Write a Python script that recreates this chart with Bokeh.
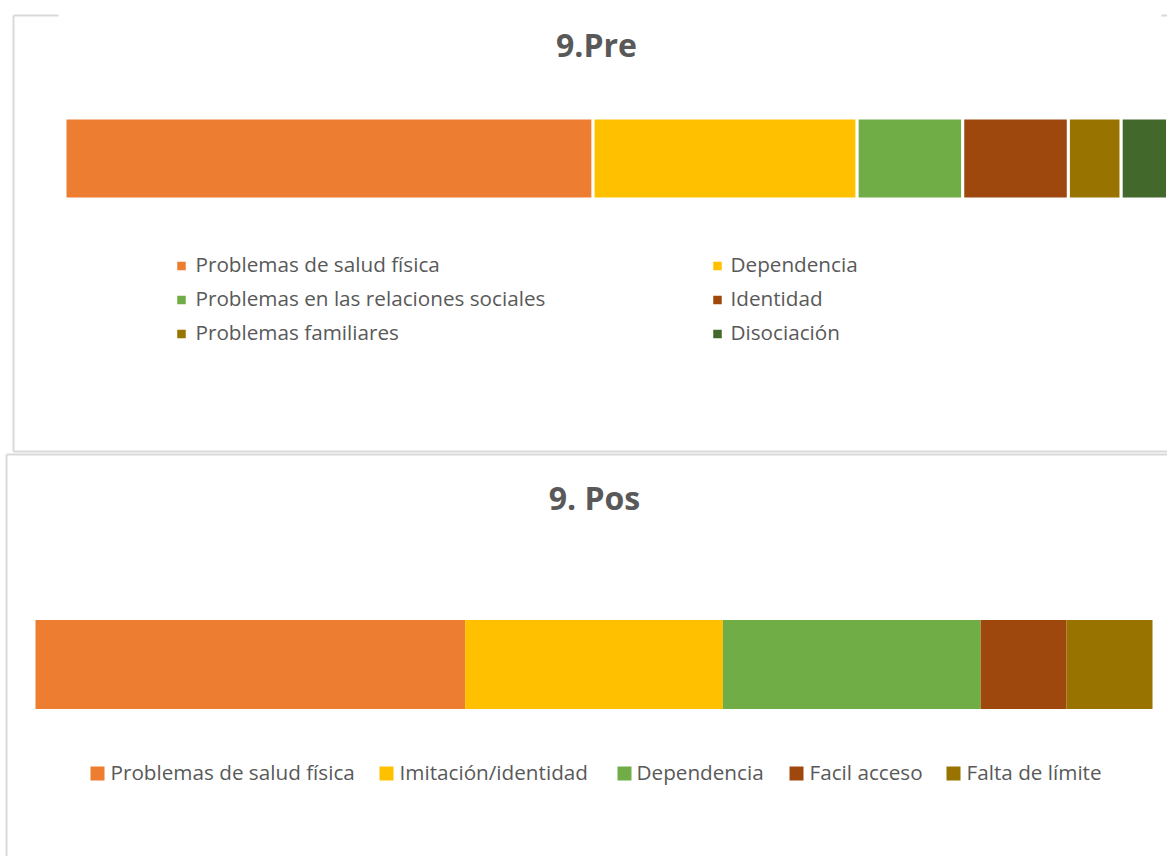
from bokeh.plotting import figure
from bokeh.models import Range1d
from bokeh.core.properties import value
from bokeh.embed import file_html
from bokeh.resources import INLINE

# ---- data -------------------------------------------------------------
pre_labels = ["Problemas de salud física", "Dependencia",
              "Problemas en las relaciones sociales", "Identidad",
              "Problemas familiares", "Disociación"]
pre_values = [10, 5, 2, 2, 1, 1]
pre_colors = ["#ED7D31", "#FFC000", "#70AD47", "#9E480E", "#997300", "#43682B"]

pos_labels = ["Problemas de salud física", "Imitación/identidad",
              "Dependencia", "Facil acceso", "Falta de límite"]
pos_values = [5, 3, 3, 1, 1]
pos_colors = ["#ED7D31", "#FFC000", "#70AD47", "#9E480E", "#997300"]

# ---- page geometry (pixels) ------------------------------------------
W, H = 1167, 856
FONT = value("Open Sans")
TXT = "#595959"
BORDER = "#D9D9D9"
LEGEND_SIZE = "20.7px"
TITLE_SIZE = "32px"

p = figure(width=W, height=H, output_backend="svg", toolbar_location=None,
           x_range=Range1d(0, W), y_range=Range1d(H, 0),
           min_border=0, min_border_left=0, min_border_right=0,
           min_border_top=0, min_border_bottom=0)
p.axis.visible = False
p.grid.visible = False
p.outline_line_color = None
p.background_fill_color = "white"


def value_range(total, px_left, px_right):
    # maps 0..total onto px_left..px_right across the full canvas width
    span = (px_right - px_left) / total
    return Range1d(-px_left / span, (W - px_left) / span)


p.extra_x_ranges = {
    "pre": value_range(sum(pre_values), 64.5, 1173.5),
    "pos": value_range(sum(pos_values), 35, 1152),
}


def cumulative(vals):
    left, out_l, out_r = 0, [], []
    for v in vals:
        out_l.append(left)
        left += v
        out_r.append(left)
    return out_l, out_r


# ---- panel frames ----------------------------------------------------
p.segment(x0=[13, 13, 1161, 13], y0=[15, 15, 15, 451],
          x1=[13, 58, W, W], y1=[451, 15, 15, 451],
          line_color=BORDER, line_width=2)
p.segment(x0=[6, 6], y0=[454, 454], x1=[W, 6], y1=[454, H],
          line_color=BORDER, line_width=2)

# ---- top panel: 9.Pre ------------------------------------------------
pl, pr = cumulative(pre_values)
p.hbar(y=[158] * len(pre_values), left=pl, right=pr, height=81,
       fill_color=pre_colors, line_color="white", line_width=3,
       x_range_name="pre")

p.text(x=[596], y=[43.5], text=["9.Pre"], text_font=FONT, text_font_size=TITLE_SIZE,
       text_font_style="bold", text_color=TXT, text_align="center",
       text_baseline="middle")

pre_sq_x = [181, 717] * 3
pre_tx_x = [195, 730] * 3
pre_mid = [263, 263, 297, 297, 331, 331]
p.rect(x=pre_sq_x, y=[m + 2.5 for m in pre_mid], width=8.5, height=8.5,
       fill_color=pre_colors, line_color=None)
p.text(x=pre_tx_x, y=pre_mid, text=pre_labels, text_font=FONT,
       text_font_size=LEGEND_SIZE, text_color=TXT, text_baseline="middle")

# ---- bottom panel: 9. Pos --------------------------------------------
ql, qr = cumulative(pos_values)
p.hbar(y=[664] * len(pos_values), left=ql, right=qr, height=89,
       fill_color=pos_colors, line_color=None, x_range_name="pos")

p.text(x=[594], y=[497], text=["9. Pos"], text_font=FONT, text_font_size=TITLE_SIZE,
       text_font_style="bold", text_color=TXT, text_align="center",
       text_baseline="middle")

pos_sq_x = [97, 386, 624, 796, 953]
pos_tx_x = [110, 399, 636, 809, 966]
p.rect(x=pos_sq_x, y=[773] * 5, width=14, height=14,
       fill_color=pos_colors, line_color=None)
p.text(x=pos_tx_x, y=[771] * 5, text=pos_labels, text_font=FONT,
       text_font_size=LEGEND_SIZE, text_color=TXT, text_baseline="middle")

open("out.html", "w").write(file_html(p, INLINE))
